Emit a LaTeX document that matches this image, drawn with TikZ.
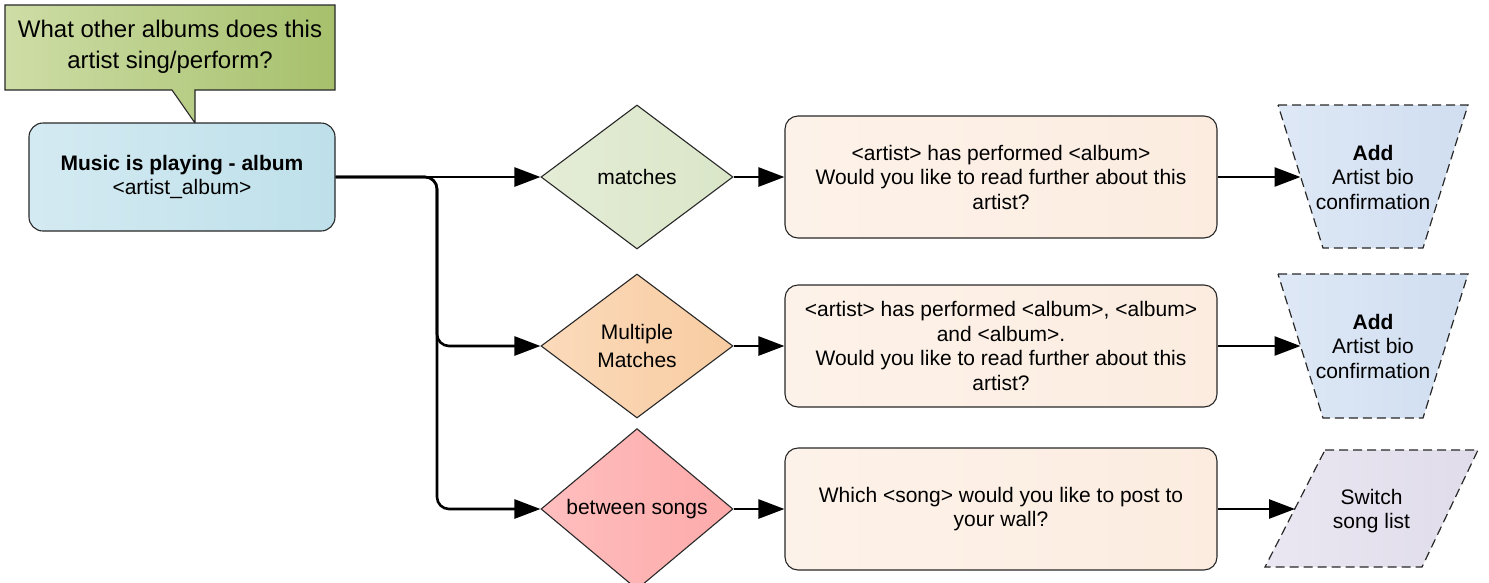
\documentclass[tikz,border=0pt]{standalone}
\usepackage{fontspec}
\setmainfont{Liberation Sans}
\usepackage{tikz}
\usetikzlibrary{arrows.meta,positioning,shapes.geometric}
\definecolor{calloutL}{RGB}{206,221,166}
\definecolor{calloutR}{RGB}{166,192,108}
\definecolor{startL}{RGB}{212,234,242}
\definecolor{startR}{RGB}{190,224,234}
\definecolor{matchL}{RGB}{228,236,214}
\definecolor{matchR}{RGB}{218,230,200}
\definecolor{multiL}{RGB}{251,218,186}
\definecolor{multiR}{RGB}{248,204,162}
\definecolor{songL}{RGB}{255,190,190}
\definecolor{songR}{RGB}{253,170,170}
\definecolor{promptL}{RGB}{253,242,233}
\definecolor{promptR}{RGB}{252,236,224}
\definecolor{addL}{RGB}{222,232,246}
\definecolor{addR}{RGB}{208,222,240}
\definecolor{listL}{RGB}{234,231,242}
\definecolor{listR}{RGB}{224,220,234}
\definecolor{edgegray}{RGB}{40,40,40}

\begin{document}
\begin{tikzpicture}[
  x=1pt, y=-1pt,
  every node/.style={font=\fontsize{21}{24.5}\selectfont, text=black},
  startbox/.style={rectangle, draw=edgegray, line width=1.1pt, rounded corners=14, left color=startL, right color=startR, minimum width=306, minimum height=108, align=center},
  decision/.style={diamond, draw=edgegray, line width=1.1pt, inner sep=0pt, minimum width=192, minimum height=144, align=center},
  prompt/.style={rectangle, draw=edgegray, line width=1.1pt, rounded corners=13, left color=promptL, right color=promptR, minimum width=432, minimum height=122, align=center},
  dashedshape/.style={draw=edgegray, line width=1.2pt, dash pattern=on 9pt off 5pt},
  addshape/.style={dashedshape, left color=addL, right color=addR},
  listshape/.style={dashedshape, left color=listL, right color=listR},
  arrow/.style={-{Triangle[length=26pt, width=19pt]}, line width=2.6pt, black}
]
\useasboundingbox (0,0) rectangle (1489,582);

% question callout
\path[draw=edgegray, line width=1.1pt, left color=calloutL, right color=calloutR]
  (5,5) -- (335,5) -- (335,90) -- (195,90) -- (195,123) -- (172,90) -- (5,90) -- cycle;
\node[font=\fontsize{24}{31}\selectfont, align=center] (question) at (170,47) {What other albums does this\\ artist sing/perform?};

% start
\node[startbox] (start) at (182,177) {\textbf{Music is playing - album}\\ <artist\_album>};

% decisions
\node[decision, left color=matchL, right color=matchR] (match) at (637,177) {matches};
\node[decision, left color=multiL, right color=multiR, font=\fontsize{21}{28}\selectfont] (multi) at (637,346) {Multiple\\ Matches};
\node[decision, left color=songL, right color=songR] (song) at (637,509) {between songs};

% prompts
\node[prompt] (onealbum) at (1001,177) {<artist> has performed <album>\\ Would you like to read further about this\\ artist?};
\node[prompt] (manyalbums) at (1001,346) {<artist> has performed <album>, <album>\\ and <album>.\\ Would you like to read further about this\\ artist?};
\node[prompt] (postsong) at (1001,509) {Which <song> would you like to post to\\ your wall?};

% actions (manual shapes)
\path[addshape] (1278,105) -- (1468,105) -- (1423,248) -- (1323,248) -- cycle;
\node[align=center] (bio1) at (1373,177) {\textbf{Add}\\ Artist bio\\ confirmation};
\coordinate (bio1in) at (1300.5,177);
\path[addshape] (1278,274) -- (1468,274) -- (1423,418) -- (1323,418) -- cycle;
\node[align=center] (bio2) at (1373,346) {\textbf{Add}\\ Artist bio\\ confirmation};
\coordinate (bio2in) at (1300.5,346);
\path[listshape] (1325,450) -- (1478,450) -- (1422,567) -- (1265,567) -- cycle;
\node[align=center] (switch) at (1371.5,511) {Switch\\ song list};
\coordinate (switchin) at (1295,509);

% connectors
\coordinate (split) at (437,177);
\draw[arrow] (start.east) -- (match.west);
\draw[arrow, rounded corners=12] (start.east) -- (split) |- (multi.west);
\draw[arrow, rounded corners=12] (start.east) -- (split) |- (song.west);
\draw[arrow] (match.east) -- (onealbum.west);
\draw[arrow] (multi.east) -- (manyalbums.west);
\draw[arrow] (song.east) -- (postsong.west);
\draw[arrow] (onealbum.east) -- (bio1in);
\draw[arrow] (manyalbums.east) -- (bio2in);
\draw[arrow] (postsong.east) -- (switchin);
\end{tikzpicture}
\end{document}
